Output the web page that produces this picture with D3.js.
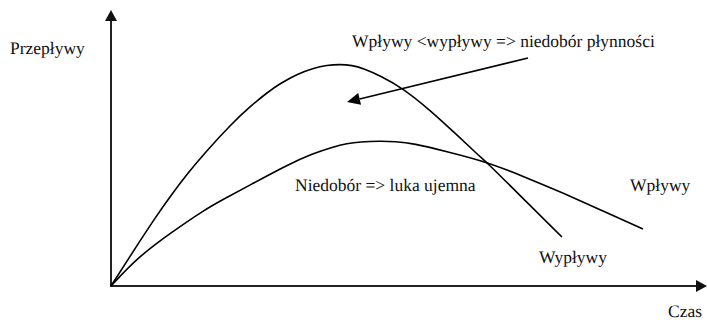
<!DOCTYPE html>
<html>
<head>
<meta charset="utf-8">
<script src="https://cdn.jsdelivr.net/npm/d3@7"></script>
<style>
  html, body { margin: 0; padding: 0; background: #fff; }
  svg { display: block; }
  text { text-rendering: geometricPrecision; }
</style>
</head>
<body>
<svg id="chart" width="707" height="320"></svg>
<script>
// ---- data (abstract units: time 0..100, flow 0..100) ----
const outflowTime = [0, 4.53, 7.38, 10.23, 12.92, 15.77, 20.47, 23.32, 26.17, 28.36, 31.21, 33.89, 36.24, 38.42,
                     40.44, 42.28, 45.13, 48.99, 53.52, 58.05, 61.91, 63.26, 68.62, 75.67];
const outflowVals = [0, 15.22, 24.64, 33.33, 40.94, 48.33, 59.28, 65.00, 70.04, 73.33, 76.78, 78.91, 80.00, 80.33,
                     79.96, 78.88, 76.20, 71.63, 63.77, 54.71, 46.85, 44.38, 32.79, 17.75];
const inflowTime  = [0, 4.53, 10.23, 15.77, 18.79, 23.32, 29.53, 33.89, 37.25, 39.60, 41.78, 45.13, 47.65, 50.67,
                     56.38, 63.09, 69.46, 75.84, 82.55, 89.26];
const inflowVals  = [0, 10.51, 19.57, 27.72, 31.34, 36.59, 43.84, 48.01, 50.36, 51.63, 52.25, 52.54, 52.36, 51.70,
                     48.66, 44.93, 39.49, 33.70, 27.17, 20.65];

const axisLabels = ["Przepływy", "Czas"];
const seriesLabels = ["Wpływy", "Wypływy"];
const notes = ["Wpływy <wypływy => niedobór płynności", "Niedobór => luka ujemna"];

// ---- drawing ----
const FONT = "Liberation Serif";
const svg = d3.select("#chart");
const x = d3.scaleLinear().domain([0, 100]).range([111, 707]);
const y = d3.scaleLinear().domain([0, 100]).range([286, 10]);

// axes
const axisG = svg.append("g");
axisG.append("line").attr("x1", x(0) - 1).attr("x2", x(100) - 8).attr("y1", y(0)).attr("y2", y(0))
  .attr("stroke", "#222").attr("stroke-width", 2);
axisG.append("line").attr("x1", x(0)).attr("x2", x(0)).attr("y1", y(0) + 1).attr("y2", y(100) + 8)
  .attr("stroke", "#222").attr("stroke-width", 2);
// arrowheads
axisG.append("path")
  .attr("d", `M${x(0)},${y(100)} L${x(0) - 6},${y(100) + 11} L${x(0) + 6},${y(100) + 11} Z`)
  .attr("fill", "#111");
axisG.append("path")
  .attr("d", `M${x(100)},${y(0)} L${x(100) - 11},${y(0) - 6} L${x(100) - 11},${y(0) + 6} Z`)
  .attr("fill", "#111");

const line = d3.line().x(d => x(d[0])).y(d => y(d[1])).curve(d3.curveBasis);

const outData = outflowTime.map((t, i) => [t, outflowVals[i]]);
const inData = inflowTime.map((t, i) => [t, inflowVals[i]]);

svg.append("path").datum(outData).attr("d", line)
  .attr("fill", "none").attr("stroke", "#000").attr("stroke-width", 1.6);
svg.append("path").datum(inData).attr("d", line)
  .attr("fill", "none").attr("stroke", "#000").attr("stroke-width", 1.6);

// annotation arrow
const ax1 = 528, ay1 = 58, ax2 = 347, ay2 = 102;
const ang = Math.atan2(ay2 - ay1, ax2 - ax1);
const hl = 13, hw = 6;
const bx = ax2 - hl * Math.cos(ang), by = ay2 - hl * Math.sin(ang);
svg.append("line").attr("x1", ax1).attr("y1", ay1).attr("x2", bx).attr("y2", by)
  .attr("stroke", "#000").attr("stroke-width", 1.6);
svg.append("path")
  .attr("d", `M${ax2},${ay2} L${bx - hw * Math.sin(ang)},${by + hw * Math.cos(ang)} L${bx + hw * Math.sin(ang)},${by - hw * Math.cos(ang)} Z`)
  .attr("fill", "#000");

// texts
function label(tx, ty, s, anchor) {
  svg.append("text").attr("x", tx).attr("y", ty)
    .attr("font-family", FONT).attr("font-size", "17.5px").attr("fill", "#111")
    .attr("text-anchor", anchor || "start").text(s);
}
label(10, 54, axisLabels[0]);
label(702, 317, axisLabels[1], "end");
label(352, 47, notes[0]);
label(295, 191, notes[1]);
label(630, 191, seriesLabels[0]);
label(539, 263, seriesLabels[1]);
</script>
</body>
</html>
